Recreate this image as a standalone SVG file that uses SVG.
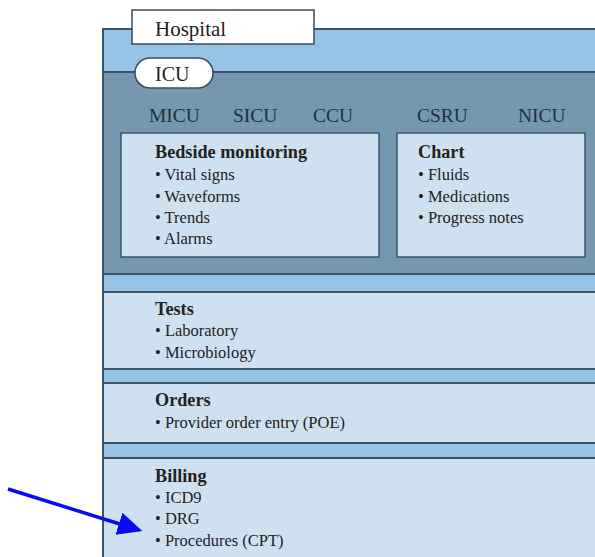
<svg xmlns="http://www.w3.org/2000/svg" width="595" height="557" viewBox="0 0 595 557">
<defs>
<style>
.t{font-family:"Liberation Serif","Times New Roman",serif;fill:#222}
.h{font-size:18.2px;font-weight:bold}
.b{font-size:16.5px}
.u{font-size:19.5px;fill:#23303a}
.line{stroke:#3e5466;stroke-width:2;fill:none}
.panel{fill:#cde1f1}
.strip{fill:#95c4e6}
</style>
<marker id="ah" markerWidth="8" markerHeight="8" refX="6" refY="4" orient="auto" markerUnits="strokeWidth">
<path d="M0,0.7 L7,4 L0,7.3 z" fill="#0a0af0"/>
</marker>
</defs>
<rect width="595" height="557" fill="#ffffff"/>
<g id="hospital">
<rect x="103" y="29" width="500" height="540" class="strip"/>
<path class="line" d="M103,557 V29 H600"/>
<rect x="132" y="10" width="182" height="34" fill="#ffffff" stroke="#3e4a52" stroke-width="1.5"/>
<text class="t" x="155" y="36" font-size="21">Hospital</text>
</g>
<g id="icu">
<rect x="104" y="72" width="495" height="202" fill="#7698ae"/>
<path class="line" d="M104,72 H600 M104,274 H600"/>
<rect x="135" y="58" width="78" height="30" rx="15" fill="#ffffff" stroke="#3e4a52" stroke-width="1.5"/>
<text class="t" x="155" y="81" font-size="20">ICU</text>
<text class="t u" x="149" y="122">MICU</text>
<text class="t u" x="233" y="122">SICU</text>
<text class="t u" x="313" y="122">CCU</text>
<text class="t u" x="417" y="122">CSRU</text>
<text class="t u" x="518" y="122">NICU</text>
</g>
<g id="bedside">
<rect x="121" y="133" width="258" height="124" class="panel" stroke="#3e5466" stroke-width="1.5"/>
<text class="t h" x="155" y="158">Bedside monitoring</text>
<text class="t b" x="155" y="180">• Vital signs</text>
<text class="t b" x="155" y="202">• Waveforms</text>
<text class="t b" x="155" y="223">• Trends</text>
<text class="t b" x="155" y="244">• Alarms</text>
</g>
<g id="chart">
<rect x="397" y="133" width="188" height="124" class="panel" stroke="#3e5466" stroke-width="1.5"/>
<text class="t h" x="418" y="158">Chart</text>
<text class="t b" x="418" y="180">• Fluids</text>
<text class="t b" x="418" y="202">• Medications</text>
<text class="t b" x="418" y="223">• Progress notes</text>
</g>
<g id="tests">
<rect x="104" y="292" width="495" height="77" class="panel"/>
<path class="line" d="M104,292 H600 M104,369 H600"/>
<text class="t h" x="155" y="315">Tests</text>
<text class="t b" x="155" y="336">• Laboratory</text>
<text class="t b" x="155" y="358">• Microbiology</text>
</g>
<g id="orders">
<rect x="104" y="383" width="495" height="60" class="panel"/>
<path class="line" d="M104,383 H600 M104,443 H600"/>
<text class="t h" x="155" y="406">Orders</text>
<text class="t b" x="155" y="428">• Provider order entry (POE)</text>
</g>
<g id="billing">
<rect x="104" y="458" width="495" height="99" class="panel"/>
<path class="line" d="M104,458 H600"/>
<text class="t h" x="155" y="482">Billing</text>
<text class="t b" x="155" y="503">• ICD9</text>
<text class="t b" x="155" y="524">• DRG</text>
<text class="t b" x="155" y="546">• Procedures (CPT)</text>
</g>
<g id="connectors">
<line x1="8" y1="489" x2="139" y2="530" stroke="#0a0af0" stroke-width="3.5" marker-end="url(#ah)"/>
</g>
</svg>
